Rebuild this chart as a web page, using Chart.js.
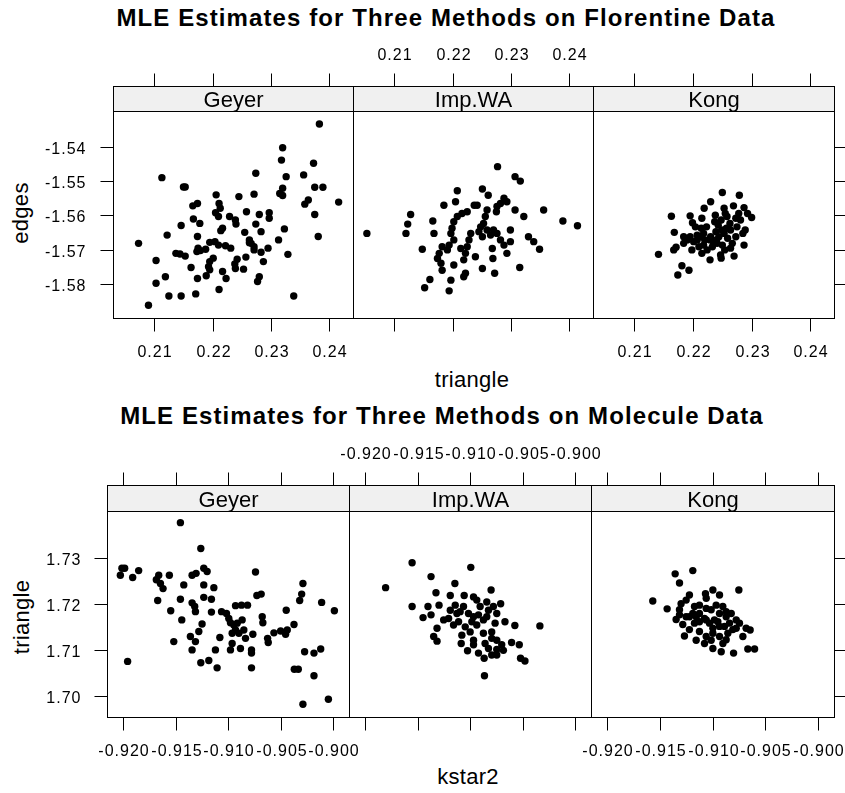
<!DOCTYPE html>
<html>
<head>
<meta charset="utf-8">
<script src="https://cdn.jsdelivr.net/npm/chart.js@4.4.1/dist/chart.umd.min.js"></script>
<style>
  body { margin: 0; background: #fff; }
  #page { position: relative; width: 845px; height: 793px; overflow: hidden; font-family: "Liberation Sans", Arial, sans-serif; color: #000; }
  #page canvas { position: absolute; left: 0; top: 0; }
  .title { position: absolute; left: 0; font-weight: bold; font-size: 24px; line-height: 24px; white-space: nowrap; text-align: center; letter-spacing: 1.1px; }
  .axlab { position: absolute; width: 200px; height: 22px; font-size: 22px; line-height: 22px; white-space: nowrap; text-align: center; letter-spacing: 0.3px; }
  .rot { transform: rotate(-90deg); }
</style>
</head>
<body>
<div id="page">
  <div class="title" style="top:6px;width:892px;">MLE Estimates for Three Methods on Florentine Data</div>
  <div class="axlab" style="left:372px;top:369px;">triangle</div>
  <div class="axlab rot" style="left:-79px;top:202px;">edges</div>

  <div class="title" style="top:404px;width:884px;">MLE Estimates for Three Methods on Molecule Data</div>
  <div class="axlab" style="left:368px;top:766px;">kstar2</div>
  <div class="axlab rot" style="left:-78px;top:606px;">triangle</div>
</div>
<script>
/* =======================
   DATA - Florentine (x: triangle, y: edges)
======================= */
const florXTicks = [0.21, 0.22, 0.23, 0.24];
const florXLabels = ['0.21', '0.22', '0.23', '0.24'];
const florYTicks = [-1.54, -1.55, -1.56, -1.57, -1.58];
const florYLabels = ['-1.54', '-1.55', '-1.56', '-1.57', '-1.58'];

const florGeyerX = [
  0.2383,0.2320,0.2318,0.2373,0.2113,0.2274,0.2326,0.2356,0.2150,0.2153,
  0.2375,0.2389,0.2320,0.2315,0.2320,0.2206,0.2245,0.2271,0.2416,0.2364,
  0.2358,0.2174,0.2166,0.2211,0.2213,0.2375,0.2258,0.2280,0.2297,0.2297,
  0.2205,0.2210,0.2229,0.2239,0.2240,0.2167,0.2178,0.2146,0.2274,0.2217,
  0.2214,0.2323,0.2283,0.2255,0.2122,0.2174,0.2381,0.2313,0.2263,0.2266,
  0.2271,0.2271,0.2263,0.2073,0.2195,0.2204,0.2210,0.2222,0.2231,0.2175,
  0.2173,0.2179,0.2188,0.2295,0.2283,0.2329,0.2137,0.2144,0.2153,0.2201,
  0.2195,0.2193,0.2195,0.2257,0.2242,0.2238,0.2239,0.2253,0.2287,0.2103,
  0.2163,0.2189,0.2217,0.2223,0.2119,0.2174,0.2280,0.2277,0.2103,0.2211,
  0.2125,0.2146,0.2171,0.2339,0.2090
];
const florGeyerY = [
  -1.5334,-1.5403,-1.5439,-1.5448,-1.5490,-1.5477,-1.5487,-1.5482,-1.5517,-1.5517,
  -1.5518,-1.5518,-1.5521,-1.5536,-1.5542,-1.5540,-1.5545,-1.5538,-1.5561,-1.5555,
  -1.5567,-1.5565,-1.5572,-1.5565,-1.5579,-1.5597,-1.5589,-1.5597,-1.5592,-1.5608,
  -1.5592,-1.5603,-1.5603,-1.5613,-1.5625,-1.5610,-1.5623,-1.5629,-1.5625,-1.5637,
  -1.5644,-1.5639,-1.5647,-1.5649,-1.5657,-1.5661,-1.5661,-1.5671,-1.5671,-1.5681,
  -1.5691,-1.5700,-1.5679,-1.5681,-1.5678,-1.5676,-1.5686,-1.5688,-1.5695,-1.5695,
  -1.5705,-1.5702,-1.5698,-1.5695,-1.5707,-1.5713,-1.5710,-1.5712,-1.5718,-1.5724,
  -1.5734,-1.5749,-1.5758,-1.5721,-1.5727,-1.5741,-1.5754,-1.5756,-1.5734,-1.5731,
  -1.5751,-1.5775,-1.5763,-1.5783,-1.5778,-1.5783,-1.5778,-1.5792,-1.5797,-1.5815,
  -1.5834,-1.5834,-1.5828,-1.5834,-1.5861
];

const florImpX = [
  0.2259,0.2256,0.2253,0.2248,0.2245,0.2251,0.2259,0.2265,0.2270,0.2276,
  0.2282,0.2288,0.2293,0.2225,0.2216,0.2208,0.2202,0.2199,0.2197,0.2202,
  0.2194,0.2191,0.2182,0.2177,0.2174,0.2180,0.2182,0.2231,0.2228,0.2225,
  0.2222,0.2219,0.2222,0.2219,0.2214,0.2239,0.2251,0.2272,0.2269,0.2268,
  0.2299,0.2299,0.2330,0.2339,0.2349,0.2315,0.2202,0.2148,0.2161,0.2152,
  0.2197,0.2194,0.2277,0.2307,0.2316,0.2208,0.2251,0.2261,0.2288,0.2293,
  0.2282,0.2276,0.2275,0.2185,0.2205,0.2237,0.2242,0.2307,0.2356,0.2322,
  0.2128,0.2123,0.2120,0.2166,0.2389,0.2414,0.2053,0.2168
];
const florImpY = [
  -1.5584,-1.5603,-1.5623,-1.5633,-1.5647,-1.5662,-1.5642,-1.5657,-1.5642,-1.5652,
  -1.5671,-1.5686,-1.5710,-1.5589,-1.5594,-1.5603,-1.5618,-1.5637,-1.5652,-1.5671,
  -1.5686,-1.5700,-1.5691,-1.5710,-1.5725,-1.5739,-1.5759,-1.5652,-1.5671,-1.5691,
  -1.5710,-1.5729,-1.5768,-1.5778,-1.5696,-1.5720,-1.5754,-1.5768,-1.5725,-1.5696,
  -1.5642,-1.5676,-1.5662,-1.5676,-1.5698,-1.5751,-1.5744,-1.5698,-1.5786,-1.5810,
  -1.5788,-1.5819,-1.5458,-1.5487,-1.5500,-1.5528,-1.5523,-1.5541,-1.5550,-1.5560,
  -1.5565,-1.5574,-1.5589,-1.5570,-1.5560,-1.5570,-1.5570,-1.5584,-1.5584,-1.5603,
  -1.5597,-1.5625,-1.5652,-1.5616,-1.5616,-1.5630,-1.5652,-1.5652
];

const florKongX = [
  0.2250,0.2279,0.2230,0.2219,0.2253,0.2269,0.2287,0.2163,0.2195,0.2215,
  0.2255,0.2293,0.2300,0.2199,0.2237,0.2243,0.2248,0.2281,0.2275,0.2289,
  0.2285,0.2168,0.2184,0.2195,0.2207,0.2218,0.2230,0.2239,0.2244,0.2253,
  0.2259,0.2264,0.2267,0.2201,0.2210,0.2198,0.2218,0.2224,0.2233,0.2241,
  0.2250,0.2287,0.2167,0.2171,0.2141,0.2215,0.2229,0.2247,0.2248,0.2270,
  0.2181,0.2193,0.2174,0.2264,0.2214,0.2223,0.2229,0.2240,0.2249,0.2257,
  0.2263,0.2273,0.2207,0.2190,0.2254,0.2220,0.2204,0.2235,0.2273,0.2258,
  0.2184,0.2278,0.2238,0.2213
];
const florKongY = [
  -1.5533,-1.5541,-1.5560,-1.5579,-1.5579,-1.5572,-1.5577,-1.5602,-1.5601,-1.5608,
  -1.5594,-1.5594,-1.5606,-1.5621,-1.5618,-1.5628,-1.5613,-1.5613,-1.5633,-1.5642,
  -1.5652,-1.5649,-1.5662,-1.5662,-1.5657,-1.5652,-1.5662,-1.5647,-1.5662,-1.5652,
  -1.5666,-1.5642,-1.5681,-1.5676,-1.5691,-1.5700,-1.5686,-1.5700,-1.5691,-1.5681,
  -1.5686,-1.5686,-1.5700,-1.5692,-1.5713,-1.5710,-1.5729,-1.5715,-1.5724,-1.5718,
  -1.5746,-1.5759,-1.5773,-1.5695,-1.5637,-1.5633,-1.5671,-1.5671,-1.5642,-1.5637,
  -1.5623,-1.5608,-1.5671,-1.5671,-1.5700,-1.5671,-1.5633,-1.5681,-1.5662,-1.5603,
  -1.5681,-1.5594,-1.5599,-1.5662
];

/* =======================
   DATA - Molecule (x: kstar2, y: triangle)
======================= */
const molXTicks = [-0.920, -0.915, -0.910, -0.905, -0.900];
const molXLabels = ['-0.920', '-0.915', '-0.910', '-0.905', '-0.900'];
const molYTicks = [1.73, 1.72, 1.71, 1.70];
const molYLabels = ['1.73', '1.72', '1.71', '1.70'];

const molGeyerX = [
  -0.91454,-0.91260,-0.92010,-0.91984,-0.92025,-0.91908,-0.91851,-0.91660,-0.91683,-0.91644,
  -0.91619,-0.91559,-0.91343,-0.91305,-0.91232,-0.91200,-0.91422,-0.91232,-0.91136,-0.90740,
  -0.90289,-0.90301,-0.90320,-0.91670,-0.91454,-0.91232,-0.91159,-0.91343,-0.91318,-0.91311,
  -0.90727,-0.90686,-0.90930,-0.90873,-0.90816,-0.90111,-0.89990,-0.91546,-0.91159,-0.91063,
  -0.91016,-0.90994,-0.90978,-0.90946,-0.90930,-0.90898,-0.90851,-0.90867,-0.90914,-0.90962,
  -0.90676,-0.90670,-0.90448,-0.91441,-0.91248,-0.91279,-0.91359,-0.91311,-0.91343,-0.91517,
  -0.91079,-0.90765,-0.90835,-0.90962,-0.90978,-0.90883,-0.90778,-0.90778,-0.90625,-0.90619,
  -0.90565,-0.90501,-0.90438,-0.90374,-0.90454,-0.91121,-0.91260,-0.91184,-0.91105,-0.90778,
  -0.91956,-0.90273,-0.90184,-0.90120,-0.90371,-0.90333,-0.90184,-0.90047,-0.90289
];
const molGeyerY = [
  1.7376,1.7320,1.7277,1.7277,1.7262,1.7257,1.7272,1.7262,1.7252,1.7244,
  1.7233,1.7262,1.7262,1.7266,1.7277,1.7270,1.7241,1.7241,1.7235,1.7269,
  1.7244,1.7221,1.7207,1.7207,1.7210,1.7214,1.7210,1.7202,1.7194,1.7183,
  1.7218,1.7221,1.7196,1.7197,1.7197,1.7203,1.7185,1.7185,1.7182,1.7183,
  1.7179,1.7168,1.7159,1.7154,1.7143,1.7136,1.7143,1.7165,1.7158,1.7136,
  1.7172,1.7159,1.7186,1.7165,1.7156,1.7140,1.7129,1.7118,1.7100,1.7118,
  1.7127,1.7134,1.7125,1.7114,1.7100,1.7103,1.7100,1.7093,1.7125,1.7116,
  1.7137,1.7141,1.7143,1.7155,1.7134,1.7100,1.7072,1.7077,1.7061,1.7061,
  1.7075,1.7096,1.7093,1.7102,1.7058,1.7058,1.7044,1.6993,1.6982
];

const molImpX = [
  -0.91552,-0.90994,-0.91804,-0.91372,-0.91145,-0.91325,-0.91189,-0.91057,-0.90801,-0.91552,
  -0.91401,-0.91448,-0.91372,-0.91296,-0.91142,-0.91189,-0.91205,-0.91158,-0.91110,-0.91063,
  -0.91016,-0.90984,-0.91047,-0.91000,-0.90937,-0.90905,-0.90921,-0.90874,-0.90826,-0.90842,
  -0.90779,-0.90710,-0.90763,-0.90669,-0.90575,-0.90337,-0.91315,-0.91347,-0.91315,-0.91085,
  -0.91025,-0.90968,-0.90921,-0.90867,-0.90795,-0.90747,-0.90858,-0.90795,-0.90747,-0.90700,
  -0.90684,-0.90606,-0.90533,-0.90521,-0.90479,-0.90864,-0.90968,-0.90937,-0.90874,-0.90795,
  -0.91126,-0.91079,-0.90968,-0.91095,-0.90842,-0.90747,-0.90968,-0.90826,-0.90747,-0.91252
];
const molImpY = [
  1.7289,1.7279,1.7235,1.7259,1.7244,1.7224,1.7218,1.7218,1.7230,1.7194,
  1.7194,1.7170,1.7176,1.7197,1.7197,1.7186,1.7168,1.7154,1.7161,1.7194,
  1.7179,1.7161,1.7150,1.7139,1.7208,1.7194,1.7176,1.7165,1.7186,1.7204,
  1.7194,1.7200,1.7158,1.7161,1.7153,1.7152,1.7147,1.7129,1.7119,1.7114,
  1.7098,1.7111,1.7093,1.7082,1.7089,1.7101,1.7114,1.7125,1.7121,1.7111,
  1.7099,1.7116,1.7111,1.7082,1.7076,1.7044,1.7172,1.7154,1.7136,1.7139,
  1.7179,1.7132,1.7215,1.7183,1.7172,1.7179,1.7121,1.7103,1.7089,1.7165
];

const molKongX = [
  -0.91188,-0.91355,-0.91314,-0.91567,-0.91431,-0.90752,-0.91220,-0.91251,-0.91299,-0.91314,
  -0.91068,-0.90998,-0.90935,-0.91346,-0.91283,-0.91220,-0.91267,-0.91172,-0.91125,-0.91078,
  -0.91030,-0.90983,-0.90935,-0.90904,-0.90872,-0.90840,-0.90809,-0.90746,-0.90683,-0.90645,
  -0.91172,-0.91125,-0.91061,-0.90998,-0.90935,-0.90872,-0.90888,-0.91014,-0.90714,-0.91077,
  -0.90998,-0.90919,-0.90802,-0.90667,-0.90603,-0.91188,-0.91125,-0.90967,-0.90935,-0.91156,
  -0.91061,-0.90998,-0.90951,-0.90856,-0.91125,-0.91220,-0.90777,-0.91251,-0.91061,-0.90824,
  -0.90777,-0.91156,-0.91014,-0.90903,-0.91314,-0.91061,-0.90872
];
const molKongY = [
  1.7272,1.7265,1.7245,1.7206,1.7189,1.7230,1.7219,1.7208,1.7200,1.7187,
  1.7222,1.7230,1.7219,1.7166,1.7155,1.7144,1.7130,1.7194,1.7179,1.7168,
  1.7158,1.7165,1.7179,1.7194,1.7172,1.7158,1.7144,1.7158,1.7147,1.7143,
  1.7158,1.7140,1.7129,1.7136,1.7129,1.7122,1.7151,1.7187,1.7129,1.7114,
  1.7103,1.7096,1.7093,1.7102,1.7102,1.7179,1.7197,1.7197,1.7151,1.7172,
  1.7190,1.7147,1.7161,1.7136,1.7161,1.7172,1.7147,1.7172,1.7165,1.7179,
  1.7165,1.7121,1.7121,1.7114,1.7176,1.7212,1.7183
];

/* =======================
   LAYOUT
======================= */
const W = 845, H = 793;
const TICK = 13;
const FONT = '"Liberation Sans", Arial, sans-serif';

// axis ranges (lattice pads the data range a little)
const florXRange = [0.20292, 0.24406];
const florYRange = [-1.5898, -1.52962];
const molXRange = [-0.92152, -0.89851];
const molYRange = [1.69544, 1.74013];

// draws frame, strip and the alternating lattice ticks from the chart's scales
const latticePanel = {
  id: 'latticePanel',
  afterDraw(chart, args, o) {
    const ctx = chart.ctx;
    const a = chart.chartArea;
    const xs = chart.scales.x, ys = chart.scales.y;
    const L = Math.round(a.left) + 0.5, R = Math.round(a.right) + 0.5;
    const T = Math.round(a.top) + 0.5, B = Math.round(a.bottom) + 0.5;
    const sTop = T - o.stripH;

    const line = (x1, y1, x2, y2) => { ctx.beginPath(); ctx.moveTo(x1, y1); ctx.lineTo(x2, y2); ctx.stroke(); };

    ctx.save();
    ctx.fillStyle = '#f0f0f0';
    ctx.fillRect(L, sTop, R - L, o.stripH);
    ctx.strokeStyle = '#000';
    ctx.lineWidth = 1;
    ctx.strokeRect(L, sTop, R - L, B - sTop);
    line(L, T, R, T);

    ctx.fillStyle = '#000';
    ctx.font = '22px ' + FONT;
    ctx.textAlign = 'center';
    ctx.textBaseline = 'alphabetic';
    ctx.fillText(o.strip, (L + R) / 2, sTop + o.stripH / 2 + 8);

    ctx.font = '16px ' + FONT;
    ctx.letterSpacing = '1px';
    o.xTicks.forEach((v, i) => {
      const px = Math.round(xs.getPixelForValue(v)) + 0.5;
      line(px, sTop, px, sTop - TICK);
      line(px, B, px, B + TICK);
      if (o.topLabels) ctx.fillText(o.xLabels[i], px + 0.5, sTop - 32.5 + 6);
      if (o.bottomLabels) ctx.fillText(o.xLabels[i], px + 0.5, B + 32.5 + 6);
    });

    ctx.textAlign = 'right';
    o.yTicks.forEach((v, i) => {
      const py = Math.round(ys.getPixelForValue(v)) + 0.5;
      if (o.left) {
        line(L, py, L - TICK, py);
        ctx.fillText(o.yLabels[i], L - o.labelGap + 1, py + 6);
      }
      if (o.right) line(R, py, R + TICK, py);
    });
    ctx.restore();
  }
};

function makePanel(box, xs, ys, xr, yr, opts) {
  const cv = document.createElement('canvas');
  cv.width = W; cv.height = H;
  document.getElementById('page').appendChild(cv);
  const pts = xs.map((x, i) => ({ x: x, y: ys[i] }));
  return new Chart(cv.getContext('2d'), {
    type: 'scatter',
    data: { datasets: [{ data: pts, pointRadius: 3.7, pointHoverRadius: 3.7, pointBackgroundColor: '#000', pointBorderWidth: 0 }] },
    options: {
      responsive: false,
      animation: false,
      events: [],
      layout: { padding: { left: box[0], right: W - box[1], top: box[2], bottom: H - box[3] } },
      scales: {
        x: { type: 'linear', min: xr[0], max: xr[1], display: false },
        y: { type: 'linear', min: yr[0], max: yr[1], display: false }
      },
      plugins: { legend: { display: false }, tooltip: { enabled: false }, latticePanel: opts }
    },
    plugins: [latticePanel]
  });
}

// Florentine panels
const florBase = { stripH: 25, xTicks: florXTicks, xLabels: florXLabels, yTicks: florYTicks, yLabels: florYLabels, labelGap: 28 };
makePanel([113, 353, 111, 318], florGeyerX, florGeyerY, florXRange, florYRange,
  Object.assign({}, florBase, { strip: 'Geyer', bottomLabels: true, left: true }));
makePanel([353, 593, 111, 318], florImpX, florImpY, florXRange, florYRange,
  Object.assign({}, florBase, { strip: 'Imp.WA', topLabels: true }));
makePanel([593, 834, 111, 318], florKongX, florKongY, florXRange, florYRange,
  Object.assign({}, florBase, { strip: 'Kong', bottomLabels: true, right: true }));

// Molecule panels
const molBase = { stripH: 26, xTicks: molXTicks, xLabels: molXLabels, yTicks: molYTicks, yLabels: molYLabels, labelGap: 27 };
makePanel([107, 349, 511, 717], molGeyerX, molGeyerY, molXRange, molYRange,
  Object.assign({}, molBase, { strip: 'Geyer', bottomLabels: true, left: true }));
makePanel([349, 591, 511, 717], molImpX, molImpY, molXRange, molYRange,
  Object.assign({}, molBase, { strip: 'Imp.WA', topLabels: true }));
makePanel([591, 834, 511, 717], molKongX, molKongY, molXRange, molYRange,
  Object.assign({}, molBase, { strip: 'Kong', bottomLabels: true, right: true }));
</script>
</body>
</html>
